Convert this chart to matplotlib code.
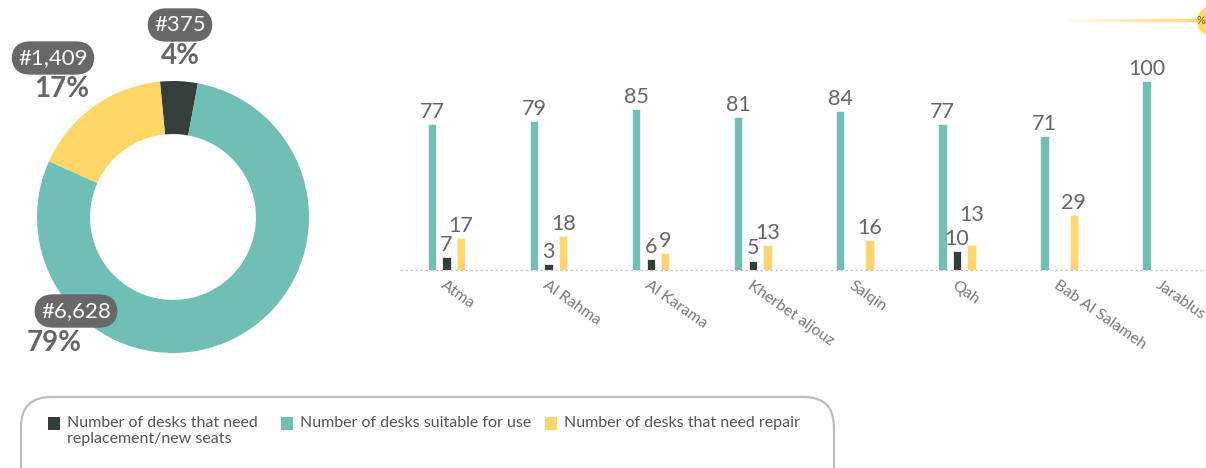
"""Desk condition per school: donut of overall totals plus grouped bars per location."""

import numpy as np
import matplotlib
matplotlib.use("Agg")
import matplotlib.pyplot as plt
from matplotlib.patches import FancyBboxPatch, Ellipse, Rectangle
from matplotlib.collections import LineCollection

plt.rcParams["font.family"] = ["Lato", "DejaVu Sans"]

# %% Data
locations = ["Atma", "Al Rahma", "Al Karama", "Kherbet aljouz", "Salqin",
             "Qah", "Bab Al Salameh", "Jarablus"]
suitable = [77, 79, 85, 81, 84, 77, 71, 100]
replace = [7, 3, 6, 5, 0, 10, 0, 0]
repair = [17, 18, 9, 13, 16, 13, 29, 0]

donut_labels = ["#375", "#6,628", "#1,409"]
donut_values = [375, 6628, 1409]
donut_pcts = ["4%", "79%", "17%"]

legend_labels = ["Number of desks that need\nreplacement/new seats",
                 "Number of desks suitable for use",
                 "Number of desks that need repair"]

# %% Style
C_DARK = "#343e3b"
C_TEAL = "#6fbfb5"
C_YELL = "#ffd667"
C_TEXT = "#666666"
W, H = 1206, 468


def fx(x):
    return x / W


def fy(y):
    return 1 - y / H


fig = plt.figure(figsize=(W / 100, H / 100), dpi=100)

# %% Donut
cx, cy, r = 173, 217, 136
ax_d = fig.add_axes([fx(cx - r), fy(cy + r), 2 * r / W, 2 * r / H])
ax_d.pie(donut_values, colors=[C_DARK, C_TEAL, C_YELL], startangle=95.5,
         counterclock=False, radius=1, wedgeprops=dict(width=0.39, linewidth=0))
ax_d.set_xlim(-1, 1)
ax_d.set_ylim(-1, 1)
ax_d.set_aspect("auto")
ax_d.axis("off")

# label positions (px): box centre, percent centre
label_pos = [((180, 25), (180, 56)),
             ((76, 311), (54, 343)),
             ((53, 58), (62, 89))]
for lab, pct, (bpos, ppos) in zip(donut_labels, donut_pcts, label_pos):
    fig.text(fx(bpos[0]), fy(bpos[1]), lab, ha="center", va="center",
             fontsize=16, color="white",
             bbox=dict(boxstyle="round,pad=0.3,rounding_size=0.85",
                       fc="#686868", ec="none"))
    fig.text(fx(ppos[0]), fy(ppos[1]), pct, ha="center", va="center",
             fontsize=20, fontweight="bold", color=C_TEXT)

# %% Bars
x0_px, dx_px = 446.5, 102.1
base_px, top_px = 270, 40
px_per_unit = 1.89
ax = fig.add_axes([fx(400), fy(base_px), (W - 400) / W, (base_px - top_px) / H])
ax.set_xlim((400 - x0_px) / dx_px, (W - x0_px) / dx_px)
ax.set_ylim(0, (base_px - top_px) / px_per_unit)
ax.axis("off")

x = np.arange(len(locations))
off, bw = 0.143, 0.082
series = [(suitable, -off, C_TEAL), (replace, 0, C_DARK), (repair, off, C_YELL)]
# extra vertical nudge (points) for labels that would collide
nudge = {(2, 5): 13}
for si, (vals, o, col) in enumerate(series):
    ax.bar(x + o, vals, width=bw, color=col, edgecolor="#f4f4f4", linewidth=0.6)
    for i, v in enumerate(vals):
        if v == 0:
            continue
        ax.annotate(str(v), (x[i] + o, v), xytext=(0, 1.5 + nudge.get((si, i), 0)),
                    textcoords="offset points", ha="center", va="bottom",
                    fontsize=15.5, color=C_TEXT)

ax.axhline(0, color="#c8c8c8", lw=0.9, ls=(0, (2, 2)), clip_on=False)

for i, name in enumerate(locations):
    ax.annotate(name, (x[i], 0), xytext=(0, -6), textcoords="offset points",
                ha="left", va="top", rotation=-35, rotation_mode="anchor",
                fontsize=11.5, color="#7a7a7a", annotation_clip=False)

# %% Legend panel
leg = FancyBboxPatch((fx(21), fy(500)), fx(813), fy(397) - fy(500),
                     boxstyle="round,pad=0,rounding_size=0.025",
                     transform=fig.transFigure, fc="white", ec="#bdbdbd",
                     lw=1.6, mutation_aspect=W / H)
fig.add_artist(leg)
leg_x = [48, 281, 545]
for lx, col, txt in zip(leg_x, [C_DARK, C_TEAL, C_YELL], legend_labels):
    fig.add_artist(Rectangle((fx(lx), fy(430)), 12 / W, 13 / H,
                             transform=fig.transFigure, fc=col, ec="none"))
    fig.text(fx(lx + 19), fy(416), txt, ha="left", va="top", fontsize=11.5,
             color="#555555", linespacing=1.2)

# %% Badge in the top-right corner
xs = np.linspace(fx(1068), fx(1197), 60)
segs = [[(xs[k], fy(20)), (xs[k + 1], fy(20))] for k in range(len(xs) - 1)]
alphas = np.linspace(0.05, 1, len(segs))
lc = LineCollection(segs, colors=[(1, 0.84, 0.4, a) for a in alphas],
                    linewidths=2.5, transform=fig.transFigure)
fig.add_artist(lc)
badge = Ellipse((fx(1212), fy(21)), 30 / W, 30 / H, transform=fig.transFigure,
                fc=C_YELL, ec="none")
fig.add_artist(badge)
fig.text(fx(1205), fy(20), "%", ha="right", va="center", fontsize=8,
         color="#6b5a2a")

fig.savefig("out.png", dpi=100)
